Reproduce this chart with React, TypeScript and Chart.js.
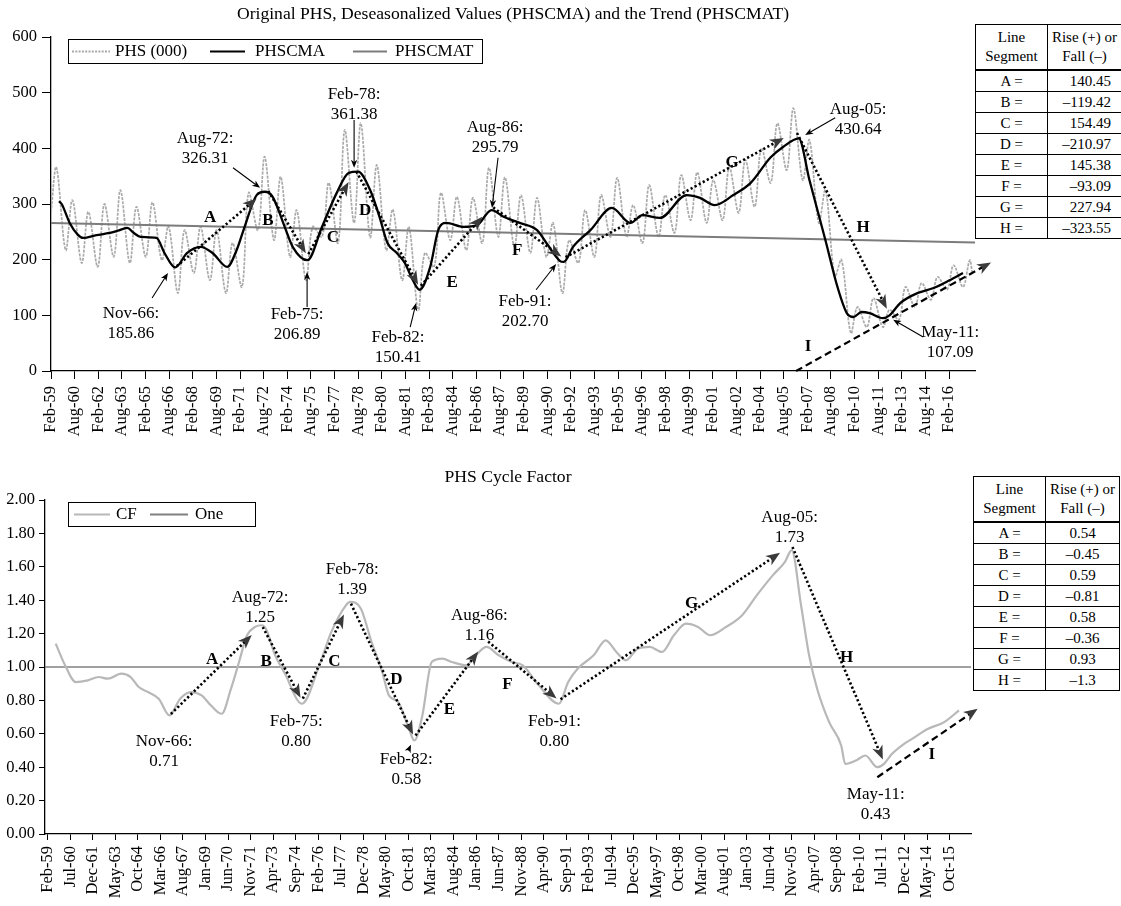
import React, { useEffect, useRef } from "react";
import { Chart, registerables } from "chart.js";

Chart.register(...registerables);

const FONT = "'Liberation Serif', 'Times New Roman', serif";
const MON = ["Jan", "Feb", "Mar", "Apr", "May", "Jun", "Jul", "Aug", "Sep", "Oct", "Nov", "Dec"];

// month index counted from Feb-59 (= 0)
const mi = (s: string): number => {
  const [mon, yy] = s.split("-");
  const y = Number(yy);
  const year = y >= 50 ? 1900 + y : 2000 + y;
  return (year - 1959) * 12 + MON.indexOf(mon) - 1;
};

const X_MAX = mi("Oct-16");

// ---------------- Top chart data ----------------
const topTickLabels = ["Feb-59", "Aug-60", "Feb-62", "Aug-63", "Feb-65", "Aug-66", "Feb-68", "Aug-69", "Feb-71", "Aug-72", "Feb-74", "Aug-75", "Feb-77", "Aug-78", "Feb-80", "Aug-81", "Feb-83", "Aug-84", "Feb-86", "Aug-87", "Feb-89", "Aug-90", "Feb-92", "Aug-93", "Feb-95", "Aug-96", "Feb-98", "Aug-99", "Feb-01", "Aug-02", "Feb-04", "Aug-05", "Feb-07", "Aug-08", "Feb-10", "Aug-11", "Feb-13", "Aug-14", "Feb-16"];

// PHS (000): raw series, seasonal trough (January) and peak (June) per year
const phsStart = { date: "Feb-59", value: 285 };
const phsEnd = { date: "Aug-16", value: 176 };
const phsFirstYear = 1959;
const phsJunePeaks = [
  366, 307, 286, 300, 325, 295, 303, 260, 253, 259,
  253, 230, 320, 385, 349, 289, 259, 338, 433, 445,
  370, 290, 259, 212, 320, 313, 311, 365, 348, 316,
  311, 266, 235, 289, 316, 347, 298, 334, 316, 352,
  357, 343, 366, 379, 400, 445, 472, 415, 325, 200,
  115, 131, 110, 151, 158, 169, 190, 199,
]; // 1959..2016
const phsJanTroughs = [
  217, 194, 187, 205, 194, 205, 199, 140, 176,
  163, 140, 151, 253, 235, 205, 163, 241, 230, 266,
  240, 217, 163, 110, 187, 235, 217, 230, 241, 223,
  212, 205, 140, 194, 205, 241, 241, 230, 241, 248,
  271, 266, 271, 284, 295, 338, 361, 343, 266, 170,
  68, 79, 79, 92, 115, 128, 146, 151,
]; // 1960..2016

// PHSCMA: deseasonalized (centered moving average)
const cmaDates = ["Aug-59", "Oct-59", "Apr-60", "Oct-60", "Feb-61", "Dec-61", "Oct-62", "Apr-63", "Nov-63", "Apr-64", "Sep-64", "Sep-65", "Mar-66", "Nov-66", "Aug-67", "Jun-68", "Mar-69", "Feb-70", "Sep-70", "Mar-71", "Dec-71", "Jun-72", "Dec-72", "Sep-73", "Mar-74", "Feb-75", "Jan-76", "Dec-76", "Sep-77", "Apr-78", "Jan-79", "Aug-79", "Feb-80", "Sep-80", "Mar-81", "Sep-81", "Feb-82", "Oct-82", "Apr-83", "Oct-83", "Nov-84", "Sep-85", "Aug-86", "May-87", "May-88", "Jun-89", "Jan-90", "Nov-90", "Feb-91", "Sep-91", "Oct-92", "Feb-94", "Apr-95", "Jan-96", "Feb-97", "Oct-98", "Aug-99", "Jul-00", "Sep-01", "Oct-02", "Jan-04", "Oct-04", "Oct-05", "Jun-06", "Jun-07", "Mar-08", "Oct-08", "Mar-09", "Sep-09", "Mar-10", "Jan-11", "Jun-11", "Feb-12", "Mar-13", "Mar-14", "Mar-15", "Jan-16"];
const cmaValues = [305, 300, 266, 245, 239, 244, 248, 252, 257, 248, 241, 239, 212, 186, 212, 223, 212, 187, 217, 259, 316, 322, 313, 259, 223, 199, 259, 320, 356, 358, 325, 277, 230, 212, 194, 163, 146, 187, 253, 266, 259, 262, 289, 277, 266, 253, 230, 198, 196, 223, 253, 293, 266, 280, 275, 316, 311, 298, 316, 338, 384, 402, 418, 343, 235, 151, 104, 97, 106, 104, 95, 100, 122, 140, 149, 163, 176];

// PHSCMAT: linear trend
const trendDates = ["Feb-59", "Oct-16"];
const trendValues = [266, 231];

// Turning points (labels and segment arrows)
const turnDates = ["Nov-66", "Aug-72", "Feb-75", "Feb-78", "Feb-82", "Aug-86", "Feb-91", "Aug-05", "May-11"];
const turnTop = [185.86, 326.31, 206.89, 361.38, 150.41, 295.79, 202.7, 430.64, 107.09];
const segLetters = ["A", "B", "C", "D", "E", "F", "G", "H"];
const riseTop = [140.45, -119.42, 154.49, -210.97, 145.38, -93.09, 227.94, -323.55];
const iTopDates = ["Aug-05", "Oct-17"];
const iTopValues = [0, 195];

// ---------------- Bottom chart data ----------------
const bottomTickLabels = ["Feb-59", "Jul-60", "Dec-61", "May-63", "Oct-64", "Mar-66", "Aug-67", "Jan-69", "Jun-70", "Nov-71", "Apr-73", "Sep-74", "Feb-76", "Jul-77", "Dec-78", "May-80", "Oct-81", "Mar-83", "Aug-84", "Jan-86", "Jun-87", "Nov-88", "Apr-90", "Sep-91", "Feb-93", "Jul-94", "Dec-95", "May-97", "Oct-98", "Mar-00", "Aug-01", "Jan-03", "Jun-04", "Nov-05", "Apr-07", "Sep-08", "Feb-10", "Jul-11", "Dec-12", "May-14", "Oct-15"];

const cfDates = ["Oct-59", "May-60", "Jan-61", "Oct-61", "Jun-62", "Jan-63", "Nov-63", "Jun-64", "Dec-64", "Jul-65", "Mar-66", "Nov-66", "Jul-67", "Mar-68", "Nov-68", "Jun-69", "Feb-70", "Sep-70", "Mar-71", "Sep-71", "Mar-72", "Aug-72", "Nov-72", "Jun-73", "Feb-74", "Oct-74", "Feb-75", "Mar-76", "Dec-76", "Nov-77", "Feb-78", "Oct-78", "Jun-79", "Feb-80", "Jul-80", "Feb-81", "Oct-81", "Feb-82", "Aug-82", "Mar-83", "Nov-83", "Jun-84", "May-85", "Dec-85", "Aug-86", "May-87", "Mar-88", "Nov-88", "Nov-89", "Feb-91", "Sep-91", "Apr-92", "Apr-93", "Jan-94", "Sep-94", "Apr-95", "Jan-96", "Oct-96", "Jul-97", "Apr-98", "Jan-99", "Oct-99", "Jul-00", "Jul-01", "Jul-02", "Jun-03", "Jun-04", "Mar-05", "Aug-05", "Mar-06", "Sep-06", "Mar-07", "Dec-07", "Sep-08", "Dec-08", "Aug-09", "Mar-10", "Dec-10", "May-11", "Nov-11", "Aug-12", "Feb-13", "Feb-14", "Feb-15", "Jan-16"];
const cfValues = [1.14, 1.01, 0.91, 0.92, 0.94, 0.93, 0.96, 0.94, 0.88, 0.85, 0.81, 0.71, 0.81, 0.85, 0.83, 0.77, 0.72, 0.87, 1.03, 1.19, 1.24, 1.25, 1.23, 1.07, 0.95, 0.81, 0.78, 1.01, 1.21, 1.37, 1.39, 1.35, 1.15, 0.97, 0.83, 0.79, 0.63, 0.56, 0.71, 1.03, 1.05, 1.03, 1.01, 1.07, 1.12, 1.07, 1.03, 1.01, 0.89, 0.78, 0.91, 0.99, 1.07, 1.16, 1.09, 1.04, 1.11, 1.12, 1.09, 1.19, 1.26, 1.24, 1.19, 1.24, 1.31, 1.43, 1.55, 1.63, 1.7, 1.37, 1.07, 0.87, 0.67, 0.53, 0.42, 0.44, 0.47, 0.4, 0.42, 0.48, 0.54, 0.57, 0.63, 0.67, 0.74];

const oneDates = ["Feb-59", "Oct-16"];
const oneValues = [1, 1];

const turnBottom = [0.71, 1.25, 0.8, 1.39, 0.58, 1.16, 0.8, 1.73, 0.43];
const riseBottom = [0.54, -0.45, 0.59, -0.81, 0.58, -0.36, 0.93, -1.3];
const iBotDates = ["Dec-10", "Mar-17"];
const iBotValues = [0.34, 0.75];

// ---------------- layout (axis label spacing as drawn, annotation anchors) ----------------
// the category labels are drawn evenly; their spacing on the drawn axis, in months of the plotted data
const TOP_LABEL_STEP = 17.7;
const BOT_LABEL_START = 2.0;
const BOT_LABEL_STEP = 16.85;

type Pt = [number, number];
const topLabelAt: Pt[] = [[59.9, 104], [115.4, 417], [184.3, 101], [227, 496], [259.9, 61], [332.6, 437], [355, 124], [604.5, 469], [673.4, 70]];
const topPointers: ([Pt, Pt] | null)[] = [
  [[75.7, 131], [87.6, 176]], [[136.3, 365], [156.6, 329]], [[191.8, 115], [191.8, 178]],
  [[227, 451], [227, 365]], [[269, 79], [273.4, 122]], [[334.8, 383], [330.3, 293]],
  [[363.3, 146], [378.3, 192]], [[587.3, 455], [564.8, 424]], [[653.2, 61], [630.7, 92]],
];
const topLetterAt: Pt[] = [[119.1, 275], [162.5, 271], [211.2, 239], [235.2, 289], [300.4, 158], [349.1, 217], [510.1, 375], [608.2, 257]];
const topILetter: Pt = [567, 43];

const botLabelAt: Pt[] = [[89, 0.551], [160.8, 1.413], [187.7, 0.671], [229.6, 1.581], [270, 0.443], [324.6, 1.311], [380.7, 0.671], [556.5, 1.898], [620.8, 0.234]];
const botPointers: ([Pt, Pt] | null)[] = [null, null, null, null, [[271.5, 0.5], [273.5, 0.535]], null, null, null, null];
const botLetterAt: Pt[] = [[124.9, 1.042], [165.3, 1.03], [216.2, 1.03], [262.5, 0.922], [302.2, 0.743], [345.6, 0.892], [483.2, 1.377], [599.1, 1.054]];
const botILetter: Pt = [662.7, 0.473];

// ---------------- drawing helpers ----------------
function arrowHead(ctx: CanvasRenderingContext2D, x: number, y: number, ang: number, len: number, half: number, color: string) {
  const c = Math.cos(ang), s = Math.sin(ang);
  ctx.save();
  ctx.setLineDash([]);
  ctx.fillStyle = color;
  ctx.beginPath();
  ctx.moveTo(x, y);
  ctx.lineTo(x - len * c + half * s, y - len * s - half * c);
  ctx.lineTo(x - len * 0.72 * c, y - len * 0.72 * s);
  ctx.lineTo(x - len * c - half * s, y - len * s + half * c);
  ctx.closePath();
  ctx.fill();
  ctx.restore();
}

function arrow(ctx: CanvasRenderingContext2D, x1: number, y1: number, x2: number, y2: number, o: any) {
  const ang = Math.atan2(y2 - y1, x2 - x1);
  const c = Math.cos(ang), s = Math.sin(ang);
  const ax = x1 + c * (o.s0 || 0), ay = y1 + s * (o.s0 || 0);
  const bx = x2 - c * (o.s1 || 0), by = y2 - s * (o.s1 || 0);
  ctx.save();
  ctx.strokeStyle = o.color;
  ctx.lineWidth = o.width;
  ctx.setLineDash(o.dash);
  ctx.beginPath();
  ctx.moveTo(ax, ay);
  ctx.lineTo(bx - c * o.headLen * 0.7, by - s * o.headLen * 0.7);
  ctx.stroke();
  ctx.restore();
  arrowHead(ctx, bx, by, ang, o.headLen, o.headHalf, o.headColor);
}

function makeOverlay(spec: any) {
  return {
    id: "overlay",
    afterDatasetsDraw(chart: any) {
      const ctx: CanvasRenderingContext2D = chart.ctx;
      const X = (m: number) => chart.scales.x.getPixelForValue(m);
      const Y = (v: number) => chart.scales.y.getPixelForValue(v);
      const ca = chart.chartArea;
      ctx.save();
      ctx.textBaseline = "middle";
      // title
      ctx.fillStyle = "#000";
      ctx.textAlign = "center";
      ctx.font = `17.6px ${FONT}`;
      ctx.fillText(spec.title, (ca.left + ca.right) / 2, spec.titleY);
      // legend
      const [bx, by, bw, bh] = spec.legendBox;
      ctx.fillStyle = "#fff";
      ctx.fillRect(bx, by, bw, bh);
      ctx.strokeStyle = "#000";
      ctx.lineWidth = 1;
      ctx.strokeRect(bx + 0.5, by + 0.5, bw, bh);
      for (const it of spec.legendItems) {
        ctx.save();
        ctx.strokeStyle = it.color;
        ctx.lineWidth = it.width;
        ctx.setLineDash(it.dash);
        ctx.beginPath();
        ctx.moveTo(it.x1, by + bh / 2 + 0.5);
        ctx.lineTo(it.x2, by + bh / 2 + 0.5);
        ctx.stroke();
        ctx.restore();
        ctx.fillStyle = "#000";
        ctx.textAlign = "left";
        ctx.font = `17px ${FONT}`;
        ctx.fillText(it.text, it.tx, by + bh / 2 + 1);
      }
      // segment arrows A..H
      const dates: string[] = spec.turnDates;
      const vals: number[] = spec.turnValues;
      for (let i = 0; i < dates.length - 1; i++) {
        const rising = vals[i + 1] > vals[i];
        arrow(ctx, X(mi(dates[i])), Y(vals[i]), X(mi(dates[i + 1])), Y(vals[i + 1]), {
          color: "#000", width: 2.6, dash: [2.2, 2.4], headLen: 14, headHalf: 5.5, headColor: "#3a3a3a",
          s0: 2, s1: rising ? 14 : 3,
        });
      }
      // I arrow (dashed)
      arrow(ctx, X(mi(spec.iDates[0])), Y(spec.iValues[0]), X(mi(spec.iDates[1])), Y(spec.iValues[1]), {
        color: "#000", width: 2.2, dash: [7, 4], headLen: 14, headHalf: 5.5, headColor: "#3a3a3a", s0: 0, s1: 0,
      });
      // letters
      ctx.font = `bold 17px ${FONT}`;
      ctx.textAlign = "center";
      ctx.fillStyle = "#000";
      spec.letters.forEach((L: string, i: number) => {
        const p = spec.letterAt[i];
        ctx.fillText(L, X(p[0]), Y(p[1]));
      });
      ctx.fillText("I", X(spec.iLetter[0]), Y(spec.iLetter[1]));
      // turning point labels
      ctx.font = `17px ${FONT}`;
      dates.forEach((d, i) => {
        const p = spec.labelAt[i];
        const x = X(p[0]), y = Y(p[1]);
        ctx.fillStyle = "#000";
        ctx.fillText(d + ":", x, y);
        ctx.fillText(spec.fmt(vals[i]), x, y + 20);
        const ptr = spec.pointers[i];
        if (ptr) {
          arrow(ctx, X(ptr[0][0]), Y(ptr[0][1]), X(ptr[1][0]), Y(ptr[1][1]), {
            color: "#000", width: 1.1, dash: [], headLen: 8, headHalf: 3.2, headColor: "#000", s0: 0, s1: 0,
          });
        }
      });
      ctx.restore();
    },
  };
}

function buildChart(canvas: HTMLCanvasElement, o: any) {
  return new Chart(canvas, {
    type: "line",
    data: { datasets: o.datasets },
    options: {
      responsive: false,
      animation: false,
      events: [],
      layout: { padding: { top: 37, right: o.padRight, bottom: 0, left: 0 } },
      plugins: { legend: { display: false }, tooltip: { enabled: false }, title: { display: false } },
      elements: { point: { radius: 0 } },
      scales: {
        x: {
          type: "linear",
          min: 0,
          max: X_MAX,
          afterBuildTicks: (ax: any) => {
            ax.ticks = o.tickPos.map((v: number) => ({ value: v }));
          },
          afterFit: (ax: any) => {
            ax.height = o.xHeight;
          },
          ticks: {
            autoSkip: false,
            minRotation: 90,
            maxRotation: 90,
            color: "#000",
            font: { family: FONT, size: 16.5 },
            padding: o.xPad,
            callback: (_v: any, i: number) => o.ticks[i],
          },
          grid: { display: true, drawOnChartArea: false, drawTicks: true, tickLength: o.xTickLen, color: "#000", lineWidth: 1 },
          border: { display: true, color: "#000", width: 1.3 },
        },
        y: {
          type: "linear",
          min: o.yMin,
          max: o.yMax,
          afterFit: (ax: any) => {
            ax.width = o.yWidth;
          },
          ticks: {
            stepSize: o.yStep,
            color: "#000",
            font: { family: FONT, size: 16.5 },
            padding: o.yPad,
            callback: (v: any) => o.yFmt(Number(v)),
          },
          grid: { display: true, drawOnChartArea: false, drawTicks: true, tickLength: o.yTickLen, color: "#000", lineWidth: 1 },
          border: { display: true, color: "#000", width: 1.3 },
        },
      },
    },
    plugins: [o.overlay],
  } as any);
}

const pts = (dates: string[], values: number[]) => dates.map((d, i) => ({ x: mi(d), y: values[i] }));

function phsPoints() {
  const out = [{ x: mi(phsStart.date), y: phsStart.value }, { x: mi("Jun-59"), y: phsJunePeaks[0] }];
  for (let k = 0; k < phsJanTroughs.length; k++) {
    const year = phsFirstYear + 1 + k;
    out.push({ x: (year - 1959) * 12 - 1, y: phsJanTroughs[k] });
    out.push({ x: (year - 1959) * 12 + 4, y: phsJunePeaks[k + 1] });
  }
  out.push({ x: mi(phsEnd.date), y: phsEnd.value });
  return out;
}

const fmtSigned = (v: number) => (v < 0 ? "\u2013" + String(Math.abs(v)) : String(v));

function SegTable({ top, left, values, align }: { top: number; left: number; values: number[]; align: "right" | "center" }) {
  const cell: any = { border: "1px solid #000", padding: 0, height: 20, lineHeight: "20px" };
  return (
    <table
      style={{
        position: "absolute", top, left, borderCollapse: "collapse", fontFamily: FONT, fontSize: 15,
        width: 146, tableLayout: "fixed", background: "#fff", border: "1.5px solid #000", color: "#000",
      }}
    >
      <colgroup>
        <col style={{ width: 72 }} />
        <col style={{ width: 74 }} />
      </colgroup>
      <thead>
        <tr>
          <th style={{ ...cell, fontWeight: "normal", height: 44, lineHeight: "19px", borderBottom: "2px solid #000" }}>Line<br />Segment</th>
          <th style={{ ...cell, fontWeight: "normal", height: 44, lineHeight: "19px", borderBottom: "2px solid #000", whiteSpace: "nowrap" }}>Rise (+) or<br />Fall (–)</th>
        </tr>
      </thead>
      <tbody>
        {segLetters.map((L, i) => (
          <tr key={L}>
            <td style={{ ...cell, textAlign: "center" }}>{L} =</td>
            <td style={{ ...cell, textAlign: align, paddingRight: align === "right" ? 10 : 0 }}>{fmtSigned(values[i])}</td>
          </tr>
        ))}
      </tbody>
    </table>
  );
}

export default function App() {
  const topRef = useRef<HTMLCanvasElement | null>(null);
  const botRef = useRef<HTMLCanvasElement | null>(null);

  useEffect(() => {
    const top = buildChart(topRef.current!, {
      datasets: [
        { label: "PHSCMA", data: pts(cmaDates, cmaValues), borderColor: "#000", borderWidth: 2.3, cubicInterpolationMode: "monotone", pointRadius: 0, fill: false },
        { label: "PHSCMAT", data: pts(trendDates, trendValues), borderColor: "#7c7c7c", borderWidth: 2, pointRadius: 0, fill: false },
        { label: "PHS (000)", data: phsPoints(), borderColor: "#aaaaaa", borderWidth: 1.7, borderDash: [3, 1.2], tension: 0.35, pointRadius: 0, fill: false },
      ],
      ticks: topTickLabels,
      tickPos: topTickLabels.map((_, k) => k * TOP_LABEL_STEP),
      yMin: 0, yMax: 600, yStep: 100, yFmt: (v: number) => String(Math.round(v)),
      yWidth: 51, xHeight: 79, padRight: 146, yTickLen: 9, yPad: 5, xTickLen: 8, xPad: 7,
      overlay: makeOverlay({
        title: "Original PHS, Deseasonalized Values (PHSCMA) and the Trend (PHSCMAT)",
        titleY: 14,
        legendBox: [68, 39, 414, 24],
        legendItems: [
          { text: "PHS (000)", color: "#a9a9a9", width: 2, dash: [2, 1.3], x1: 72, x2: 110, tx: 115 },
          { text: "PHSCMA", color: "#000", width: 2.2, dash: [], x1: 210, x2: 245, tx: 255 },
          { text: "PHSCMAT", color: "#7c7c7c", width: 2, dash: [], x1: 353, x2: 387, tx: 395 },
        ],
        turnDates, turnValues: turnTop, fmt: (v: number) => v.toFixed(2),
        letters: segLetters, letterAt: topLetterAt, iLetter: topILetter,
        iDates: iTopDates, iValues: iTopValues,
        labelAt: topLabelAt, pointers: topPointers,
      }),
    });
    const bot = buildChart(botRef.current!, {
      datasets: [
        { label: "CF", data: pts(cfDates, cfValues), borderColor: "#b8b8b8", borderWidth: 2.2, cubicInterpolationMode: "monotone", pointRadius: 0, fill: false },
        { label: "One", data: pts(oneDates, oneValues), borderColor: "#808080", borderWidth: 1.6, pointRadius: 0, fill: false },
      ],
      ticks: bottomTickLabels,
      tickPos: bottomTickLabels.map((_, k) => BOT_LABEL_START + k * BOT_LABEL_STEP),
      yMin: 0, yMax: 2, yStep: 0.2, yFmt: (v: number) => v.toFixed(2),
      yWidth: 45, xHeight: 72, padRight: 150, yTickLen: 6, yPad: 4, xTickLen: 6, xPad: 6,
      overlay: makeOverlay({
        title: "PHS Cycle Factor",
        titleY: 14,
        legendBox: [68, 39, 187, 24],
        legendItems: [
          { text: "CF", color: "#b8b8b8", width: 2, dash: [], x1: 74, x2: 110, tx: 116 },
          { text: "One", color: "#808080", width: 2, dash: [], x1: 150, x2: 188, tx: 195 },
        ],
        turnDates, turnValues: turnBottom, fmt: (v: number) => v.toFixed(2),
        letters: segLetters, letterAt: botLetterAt, iLetter: botILetter,
        iDates: iBotDates, iValues: iBotValues,
        labelAt: botLabelAt, pointers: botPointers,
      }),
    });
    return () => {
      top.destroy();
      bot.destroy();
    };
  }, []);

  return (
    <div style={{ position: "absolute", left: 0, top: 0, width: 1121, height: 906, background: "#fff", overflow: "hidden" }}>
      <canvas ref={topRef} width={1121} height={450} style={{ position: "absolute", left: 0, top: 0, width: 1121, height: 450 }} />
      <canvas ref={botRef} width={1121} height={443} style={{ position: "absolute", left: 0, top: 463, width: 1121, height: 443 }} />
      <SegTable top={24} left={975} values={riseTop} align="right" />
      <SegTable top={476} left={973} values={riseBottom} align="center" />
    </div>
  );
}
